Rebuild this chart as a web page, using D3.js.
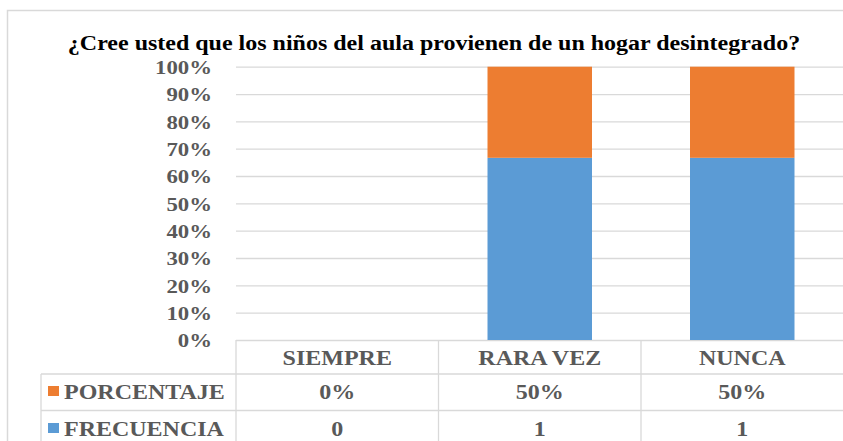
<!DOCTYPE html>
<html>
<head>
<meta charset="utf-8">
<script src="https://cdn.jsdelivr.net/npm/d3@7"></script>
<style>
  body { margin: 0; background: #fff; }
</style>
</head>
<body>
<div id="chart"></div>
<script>
// data
var categories = ["SIEMPRE", "RARA VEZ", "NUNCA"];
var frecuencia = [0, 1, 1];
var porcentaje = [0, 0.5, 0.5];
var porcentajeLabels = ["0%", "50%", "50%"];
var seriesNames = ["FRECUENCIA", "PORCENTAJE"];
var yTicks = [0, 0.1, 0.2, 0.3, 0.4, 0.5, 0.6, 0.7, 0.8, 0.9, 1];

var svgWidth = 843;
var svgHeight = 441;
var sx = 1.2; // text in the picture is stretched wide
var serif = "'Liberation Serif', 'Times New Roman', Times, 'DejaVu Serif', serif";

var plot = { left: 236, right: 843.5, top: 66.7, bottom: 340 };
var colors = { FRECUENCIA: "#5b9bd5", PORCENTAJE: "#ed7d31" };
var grid = "#d9d9d9";
var textColor = "#595959";

var svg = d3.select("#chart")
  .append("svg")
  .attr("width", svgWidth)
  .attr("height", svgHeight)
  .attr("font-family", serif)
  .attr("font-weight", "bold");

// outer chart border
svg.append("rect")
  .attr("x", 7.5)
  .attr("y", 10.5)
  .attr("width", 900)
  .attr("height", 500)
  .attr("fill", "none")
  .attr("stroke", grid)
  .attr("stroke-width", 1.5);

var rows = categories.map(function(c, i) {
  return { cat: c, FRECUENCIA: frecuencia[i], PORCENTAJE: porcentaje[i] };
});

var stacked = d3.stack()
  .keys(seriesNames)
  .offset(d3.stackOffsetExpand)(rows);

var xScale = d3.scaleBand()
  .domain(categories)
  .range([plot.left, plot.right])
  .paddingInner(0.484)
  .paddingOuter(0.242);

var colScale = d3.scaleBand()
  .domain(categories)
  .range([plot.left, plot.right]);

var yScale = d3.scaleLinear()
  .domain([0, 1])
  .range([plot.bottom, plot.top]);

// y axis with gridlines
var leftAxis = d3.axisLeft(yScale)
  .tickValues(yTicks)
  .tickFormat(d3.format(".0%"))
  .tickSize(-(plot.right - plot.left))
  .tickPadding(0);

var yAxis = svg.append("g")
  .attr("transform", `translate(${plot.left}, 0)`)
  .call(leftAxis)
  .attr("font-family", serif)
  .attr("font-size", null);

yAxis.select(".domain").remove();
yAxis.selectAll("line")
  .attr("stroke", grid)
  .attr("stroke-width", 1.3);
yAxis.selectAll("text")
  .attr("x", -24 / sx)
  .attr("dy", "0.36em")
  .attr("transform", `scale(${sx},1)`)
  .style("font-family", serif)
  .style("font-weight", "bold")
  .style("font-size", "19px")
  .attr("fill", textColor);

// bars
svg.selectAll(".layer")
  .data(stacked)
  .enter()
  .append("g")
  .attr("fill", d => colors[d.key])
  .selectAll("rect")
  .data(d => d)
  .enter()
  .append("rect")
  .attr("x", d => xScale(d.data.cat))
  .attr("width", xScale.bandwidth())
  .attr("y", d => yScale(d[1]))
  .attr("height", d => Math.max(0, yScale(d[0]) - yScale(d[1])));

// title
svg.append("text")
  .attr("transform", `translate(434, 50) scale(${sx},1)`)
  .attr("text-anchor", "middle")
  .style("font-family", serif)
  .style("font-size", "20px")
  .attr("fill", "#000")
  .text("¿Cree usted que los niños del aula provienen de un hogar desintegrado?");

// data table lines
var rowLines = [374, 410.5];
var tableLeft = 41;

svg.selectAll(".hline")
  .data(rowLines)
  .enter()
  .append("line")
  .attr("x1", tableLeft)
  .attr("x2", plot.right)
  .attr("y1", d => d)
  .attr("y2", d => d)
  .attr("stroke", grid)
  .attr("stroke-width", 1.3);

svg.append("line")
  .attr("x1", tableLeft)
  .attr("x2", tableLeft)
  .attr("y1", rowLines[0])
  .attr("y2", svgHeight)
  .attr("stroke", grid)
  .attr("stroke-width", 1.3);

svg.selectAll(".vline")
  .data(categories)
  .enter()
  .append("line")
  .attr("x1", d => colScale(d))
  .attr("x2", d => colScale(d))
  .attr("y1", plot.bottom)
  .attr("y2", svgHeight)
  .attr("stroke", grid)
  .attr("stroke-width", 1.3);

// category labels
svg.selectAll(".cat")
  .data(categories)
  .enter()
  .append("text")
  .attr("transform", d => `translate(${colScale(d) + colScale.bandwidth() / 2}, 365) scale(${sx},1)`)
  .attr("text-anchor", "middle")
  .style("font-family", serif)
  .style("font-size", "20px")
  .attr("fill", textColor)
  .text(d => d);

// table rows
var tableRows = [
  { name: "PORCENTAJE", values: porcentajeLabels, base: 398.5 },
  { name: "FRECUENCIA", values: frecuencia.map(String), base: 435.5 }
];

tableRows.forEach(function(r) {
  svg.append("rect")
    .attr("x", 48)
    .attr("y", r.base - 12.5)
    .attr("width", 11)
    .attr("height", 10)
    .attr("fill", colors[r.name]);

  svg.append("text")
    .attr("transform", `translate(64, ${r.base}) scale(${sx},1)`)
    .style("font-family", serif)
    .style("font-size", "20px")
    .attr("fill", textColor)
    .text(r.name);

  svg.selectAll(".val-" + r.name)
    .data(r.values)
    .enter()
    .append("text")
    .attr("transform", (d, i) => `translate(${colScale(categories[i]) + colScale.bandwidth() / 2}, ${r.base}) scale(${sx},1)`)
    .attr("text-anchor", "middle")
    .style("font-family", serif)
    .style("font-size", "20px")
    .attr("fill", textColor)
    .text(d => d);
});
</script>
</body>
</html>
